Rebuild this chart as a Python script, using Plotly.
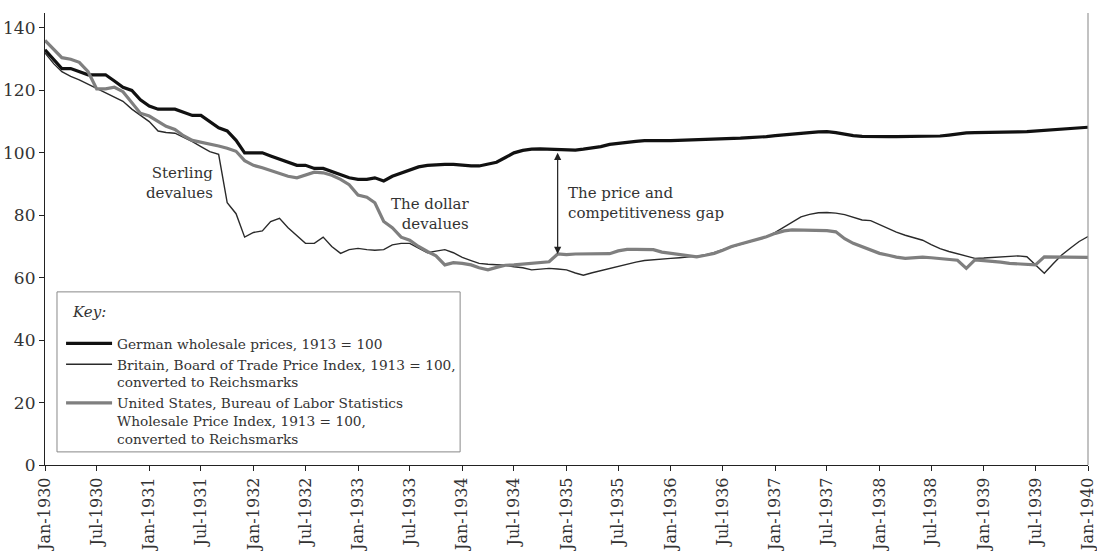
import plotly.graph_objects as go
import pandas as pd

# monthly, Jan 1930 - Jan 1940
months = pd.date_range("1930-01-01", periods=121, freq="MS")

# German wholesale prices, 1913 = 100
germany = [
    133, 130, 127, 127, 126, 125, 125, 125, 123, 121,
    120, 117, 115, 114, 114, 114, 113, 112, 112, 110,
    108, 107, 104, 100, 100, 100, 99, 98, 97, 96,
    96, 95, 95, 94, 93, 92, 91.5, 91.5, 92, 91,
    92.5, 93.5, 94.5, 95.5, 96, 96.2, 96.3, 96.3, 96, 95.8,
    95.8, 96.3, 97, 98.5, 100, 100.8, 101.2, 101.3, 101.2, 101,
    101, 100.9, 101.2, 101.5, 102, 102.7, 103.1, 103.4, 103.7, 103.9,
    104, 103.9, 103.9, 104, 104, 104, 104.2, 104.4, 104.5, 104.6,
    104.7, 104.9, 105, 105.2, 105.5, 105.8, 106, 106.2, 106.5, 106.7,
    106.8, 106.5, 106, 105.5, 105.3, 105.2, 105.2, 105.2, 105.2, 105.2,
    105.3, 105.4, 105.4, 105.4, 105.7, 106.1, 106.4, 106.5, 106.5, 106.5,
    106.5, 106.5, 106.7, 106.8, 107, 107.1, 107.3, 107.5, 107.7, 108,
    108.2,
]

# Britain, Board of Trade index converted to Reichsmarks
britain = [
    132, 128.5, 126, 124.5, 123.4, 122, 120.7, 119.5, 118, 116.5,
    114, 112, 110, 107, 106.5, 106.3, 105, 103.6, 102, 100.4,
    99.5, 84, 80.5, 73, 74.5, 75, 78, 79, 76, 73.5,
    71, 71, 73, 70, 67.8, 69, 69.4, 69, 68.8, 69,
    70.5, 71, 71, 69.5, 68, 68.5, 69, 68, 66.5, 65.5,
    64.6, 64.3, 64.1, 64, 63.5, 63.2, 62.5, 62.8, 63, 62.8,
    62.5, 61.5, 60.8, 61.6, 62.3, 62.8, 63.5, 64.3, 65, 65.5,
    65.8, 66.1, 66.2, 66.4, 66.6, 66.9, 67.3, 68, 69, 69.8,
    70.6, 71.5, 72.3, 73.1, 74.5, 76.2, 78, 79.5, 80.3, 80.8,
    80.9, 80.7, 80.2, 79.3, 78.5, 78.3, 77, 75.6, 74.6, 73.6,
    72.7, 72, 70.6, 69.3, 68.4, 67.6, 66.8, 66.2, 66.3, 66.5,
    66.7, 66.9, 67, 66.7, 64, 61.4, 64.5, 67.3, 69.5, 71.6,
    73.2,
]

# United States, BLS wholesale index converted to Reichsmarks
usa = [
    136, 133, 130.5, 130, 129, 126, 120.5, 120.5, 121, 119.6,
    116, 112.7, 111.8, 110, 108.5, 107.5, 105.5, 104, 103.4, 103,
    102.2, 101.5, 100.5, 97.5, 96, 95.2, 94.3, 93.5, 92.5, 92,
    92.8, 93.8, 93.6, 92.8, 91.5, 89.8, 86.5, 85.8, 84, 78,
    76, 73, 72, 70, 68.4, 67, 64.1, 64.8, 64.6, 64.1,
    63.2, 62.5, 63.3, 64, 64.1, 64.3, 64.6, 64.8, 65.1, 67.6,
    67.4, 67.6, 67.6, 67.6, 67.6, 67.7, 68.6, 69.1, 69.1, 69.1,
    69, 68.2, 67.8, 67.4, 67, 66.7, 67.2, 67.8, 68.8, 70,
    70.8, 71.5, 72.3, 73.1, 74.2, 75, 75.3, 75.3, 75.2, 75.2,
    75.1, 74.7, 72.5, 71, 69.9, 68.7, 67.8, 67.2, 66.6, 66.2,
    66.4, 66.6, 66.4, 66.2, 66, 65.6, 63, 65.7, 65.5, 65.3,
    65, 64.6, 64.4, 64.2, 64.1, 66.7, 66.7, 66.6, 66.6, 66.5,
    66.5,
]

FONT = "DejaVu Serif"
TXT = "#333333"

fig = go.Figure()

fig.add_trace(go.Scatter(
    x=months, y=germany, mode="lines", legendgroup="de",
    line=dict(color="#111111", width=3.2),
    name="German wholesale prices, 1913 = 100",
))
fig.add_trace(go.Scatter(
    x=months, y=britain, mode="lines", legendgroup="uk",
    line=dict(color="#2a2a2a", width=1.4),
    name="Britain, Board of Trade Price Index, 1913 = 100,<br>converted to Reichsmarks",
))
fig.add_trace(go.Scatter(
    x=months, y=usa, mode="lines", legendgroup="us",
    line=dict(color="#7f7f7f", width=3.2),
    name="United States, Bureau of Labor Statistics<br>Wholesale Price Index, 1913 = 100,<br>converted to Reichsmarks",
))

# annotations
fig.add_annotation(
    x=months[20], y=90.5, xref="x", yref="y", text="Sterling<br>devalues",
    showarrow=False, xanchor="right", align="right", xshift=-4,
    font=dict(family=FONT, size=15, color=TXT),
)
fig.add_annotation(
    x=months[49], y=80.4, xref="x", yref="y", text="The dollar<br>devalues",
    showarrow=False, xanchor="right", align="right",
    font=dict(family=FONT, size=15, color=TXT),
)
# double-headed arrow for the gap
gap_m = 59
fig.add_annotation(
    x=months[gap_m], y=usa[gap_m], ax=months[gap_m], ay=germany[gap_m] - 0.5,
    xref="x", yref="y", axref="x", ayref="y", text="",
    showarrow=True, arrowhead=2, startarrowhead=2, arrowside="end+start",
    arrowwidth=1.2, arrowsize=1.2, arrowcolor="#222",
)
fig.add_annotation(
    x=months[gap_m], y=84, xref="x", yref="y",
    text="The price and<br>competitiveness gap",
    showarrow=False, xanchor="left", align="left", xshift=8,
    font=dict(family=FONT, size=15, color=TXT),
)

# key box and its title
fig.add_shape(type="rect", xref="paper", yref="paper",
              x0=0.0115, x1=0.398, y0=0.029, y1=0.383,
              line=dict(color="#888888", width=1), fillcolor="white", layer="above")
fig.add_annotation(
    x=0.024, y=0.3385, xref="paper", yref="paper", text="<i>Key:</i>",
    showarrow=False, xanchor="left", yanchor="middle",
    font=dict(family=FONT, size=15, color=TXT),
)

# thin right border
fig.add_shape(type="line", xref="paper", yref="paper", x0=1, x1=1, y0=0, y1=1,
              line=dict(color="#999999", width=1.2))

fig.update_layout(
    width=1097, height=551,
    margin=dict(l=45, r=9, t=13, b=86),
    paper_bgcolor="white", plot_bgcolor="white",
    font=dict(family=FONT, size=14, color=TXT),
    showlegend=True,
    legend=dict(
        x=0.0154, y=0.303, xanchor="left", yanchor="top",
        bgcolor="rgba(0,0,0,0)", borderwidth=0,
        font=dict(family=FONT, size=13.7, color=TXT),
        itemwidth=46, valign="top", tracegroupgap=4,
        traceorder="normal",
    ),
    xaxis=dict(
        range=[months[0], months[-1]],
        tickformat="%b-%Y", dtick="M6", tick0="1930-01-01",
        tickangle=-90, ticks="outside", ticklen=5, tickcolor="#222",
        showline=True, linecolor="#222", linewidth=1.2,
        showgrid=False, zeroline=False, automargin=False,
        ticklabeloverflow="allow",
        tickfont=dict(family=FONT, size=16),
    ),
    yaxis=dict(
        range=[0, 144.8], dtick=20, tick0=0,
        ticks="outside", ticklen=5, tickcolor="#222",
        showline=True, linecolor="#222", linewidth=1.2,
        showgrid=False, zeroline=False, automargin=False,
        tickfont=dict(family=FONT, size=17),
    ),
)

fig.write_html(
    "out.html",
    config={"displayModeBar": False},
    post_script="document.body.style.margin='0';",
)
